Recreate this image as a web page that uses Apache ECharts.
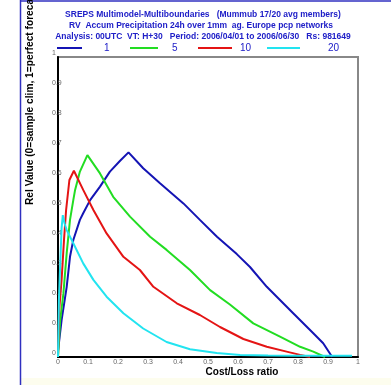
<!DOCTYPE html>
<html>
<head>
<meta charset="utf-8">
<script src="https://cdn.jsdelivr.net/npm/echarts@6/dist/echarts.min.js"></script>
<style>html,body{margin:0;padding:0;background:#fff}#c{width:391px;height:385px}</style>
</head>
<body>
<div id="c"></div>
<script>
// ---- data ----
var titleLines = [
  "SREPS Multimodel-Multiboundaries   (Mummub 17/20 avg members)",
  "RV  Accum Precipitation 24h over 1mm  ag. Europe pcp networks",
  "Analysis: 00UTC  VT: H+30   Period: 2006/04/01 to 2006/06/30   Rs: 981649"
];
var seriesNames = ["1", "5", "10", "20"];
var xTicks = [0, 0.1, 0.2, 0.3, 0.4, 0.5, 0.6, 0.7, 0.8, 0.9, 1];

var xBlue = [0, 0.012, 0.029, 0.04, 0.051, 0.073, 0.084, 0.107, 0.14, 0.173, 0.207, 0.235, 0.284, 0.34, 0.418, 0.473, 0.53, 0.596, 0.64, 0.696, 0.784, 0.851, 0.884, 0.914];
var yBlue = [0.02, 0.123, 0.234, 0.334, 0.39, 0.457, 0.479, 0.523, 0.568, 0.618, 0.654, 0.682, 0.629, 0.579, 0.512, 0.457, 0.401, 0.343, 0.30, 0.234, 0.146, 0.079, 0.046, 0.0];

var xGreen = [0, 0.007, 0.018, 0.029, 0.04, 0.051, 0.057, 0.073, 0.098, 0.14, 0.184, 0.24, 0.307, 0.362, 0.44, 0.507, 0.573, 0.651, 0.74, 0.807, 0.851, 0.89];
var yGreen = [0.0, 0.12, 0.212, 0.346, 0.457, 0.523, 0.557, 0.618, 0.673, 0.612, 0.534, 0.468, 0.401, 0.357, 0.29, 0.223, 0.175, 0.112, 0.068, 0.034, 0.018, 0.0];

var xRed = [0, 0.004, 0.012, 0.02, 0.027, 0.038, 0.053, 0.084, 0.118, 0.162, 0.218, 0.273, 0.318, 0.396, 0.473, 0.54, 0.618, 0.696, 0.762, 0.807, 0.84];
var yRed = [0.0, 0.157, 0.257, 0.39, 0.49, 0.59, 0.621, 0.557, 0.49, 0.412, 0.334, 0.29, 0.234, 0.179, 0.14, 0.10, 0.06, 0.034, 0.018, 0.007, 0.0];

var xCyan = [0, 0.003, 0.007, 0.012, 0.016, 0.022, 0.029, 0.051, 0.084, 0.118, 0.162, 0.218, 0.284, 0.362, 0.44, 0.529, 0.607, 0.7, 0.8, 0.9, 0.98];
var yCyan = [0.0, 0.19, 0.3, 0.43, 0.473, 0.445, 0.423, 0.379, 0.312, 0.257, 0.201, 0.146, 0.095, 0.05, 0.026, 0.013, 0.007, 0.005, 0.004, 0.004, 0.004];

function pairs(xs, ys) { return xs.map(function (x, i) { return [x, ys[i]]; }); }

var colors = ["#1414b4", "#22dd22", "#e41414", "#22e4f0"];
var dataSets = [pairs(xBlue, yBlue), pairs(xGreen, yGreen), pairs(xRed, yRed), pairs(xCyan, yCyan)];

var chart = echarts.init(document.getElementById('c'), null, {renderer: 'canvas'});

var legendPos = [
  {left: 57, w: 25, pad: 17},
  {left: 130, w: 28, pad: 9},
  {left: 198, w: 34, pad: 3},
  {left: 267, w: 33, pad: 23}
];

var option = {
  animation: false,
  backgroundColor: '#ffffff',
  grid: {left: 58, top: 57, width: 300, height: 300, show: true, borderColor: '#888888', borderWidth: 2, backgroundColor: 'transparent'},
  legend: legendPos.map(function (p, i) {
    return {
      data: [seriesNames[i]], left: p.left, top: 43, padding: 0, icon: 'rect', itemWidth: p.w, itemHeight: 2,
      textStyle: {color: '#2020c8', fontSize: 10, fontFamily: 'Liberation Sans, Arial', padding: [0, 0, 0, p.pad]},
      selectedMode: false
    };
  }),
  xAxis: {
    type: 'value', min: 0, max: 1, interval: 0.1,
    axisLine: {show: true, onZero: false, lineStyle: {color: '#000', width: 2}},
    axisTick: {show: false},
    splitLine: {show: false},
    axisLabel: {color: '#666', fontSize: 7, fontFamily: 'Liberation Sans, Arial', margin: 2,
      formatter: function (v) { return String(Math.round(v * 10) / 10); }}
  },
  yAxis: {
    type: 'value', min: 0, max: 1, interval: 0.1,
    axisLine: {show: true, onZero: false, lineStyle: {color: '#000', width: 2}},
    axisTick: {show: false},
    splitLine: {show: false},
    axisLabel: {color: '#666', fontSize: 7, fontFamily: 'Liberation Sans, Arial', margin: 6, align: 'left', verticalAlign: 'bottom',
      formatter: function (v) { return String(Math.round(v * 10) / 10); }}
  },
  series: dataSets.map(function (d, i) {
    return {
      name: seriesNames[i], type: 'line', data: d, showSymbol: false, symbol: 'none', clip: false,
      lineStyle: {color: colors[i], width: 2}, itemStyle: {color: colors[i]}, z: 3 + i
    };
  }),
  graphic: [
    {type: 'rect', shape: {x: 20, y: 378, width: 371, height: 7}, style: {fill: '#fdfdee'}, silent: true, z: -1},
    {type: 'line', shape: {x1: 20.5, y1: 0, x2: 20.5, y2: 385}, style: {stroke: '#3030c0', lineWidth: 1.5}},
    {type: 'line', shape: {x1: 20, y1: 1, x2: 391, y2: 1}, style: {stroke: '#3030c0', lineWidth: 1.5}},
    {type: 'text', x: 203, y: 15, style: {text: titleLines[0], fill: '#2020c8', font: 'bold 8.5px Liberation Sans, Arial', textAlign: 'center', textVerticalAlign: 'middle'}},
    {type: 'text', x: 201, y: 26, style: {text: titleLines[1], fill: '#2020c8', font: 'bold 8.5px Liberation Sans, Arial', textAlign: 'center', textVerticalAlign: 'middle'}},
    {type: 'text', x: 203, y: 37, style: {text: titleLines[2], fill: '#2020c8', font: 'bold 8.5px Liberation Sans, Arial', textAlign: 'center', textVerticalAlign: 'middle'}},
    {type: 'text', x: 242, y: 372, style: {text: 'Cost/Loss ratio', fill: '#000', font: 'bold 10px Liberation Sans, Arial', textAlign: 'center', textVerticalAlign: 'middle'}},
    {type: 'text', x: 30, y: 205, rotation: Math.PI / 2, style: {text: 'Rel Value (0=sample clim, 1=perfect forecast)', fill: '#000', font: 'bold 10.2px Liberation Sans, Arial', textAlign: 'left', textVerticalAlign: 'middle'}}
  ]
};
chart.setOption(option);
</script>
</body>
</html>
